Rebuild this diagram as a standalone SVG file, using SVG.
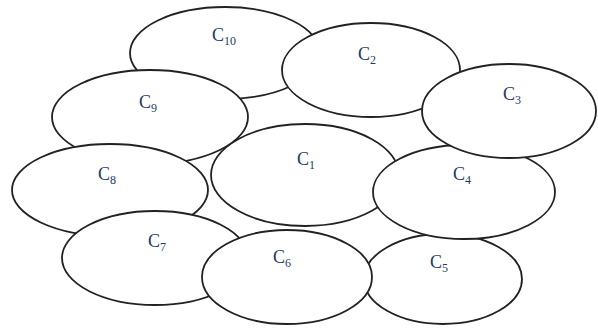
<svg xmlns="http://www.w3.org/2000/svg" width="598" height="329" viewBox="0 0 598 329">
<style>
.e{fill:#fff;stroke:#222;stroke-width:1.8}
.t{font-family:"Liberation Serif","Times New Roman",serif;font-size:18px;fill:#243a63}
.s{font-size:12px}
</style>
<rect width="598" height="329" fill="#fff"/>
<g id="C10"><ellipse class="e" cx="225" cy="53" rx="95" ry="46"/><text class="t" x="212" y="41">C<tspan class="s" dy="4">10</tspan></text></g>
<g id="C1"><ellipse class="e" cx="305" cy="175" rx="94" ry="51"/><text class="t" x="297" y="165">C<tspan class="s" dy="4">1</tspan></text></g>
<g id="C9"><ellipse class="e" cx="150" cy="117" rx="98" ry="47"/><text class="t" x="139" y="108">C<tspan class="s" dy="4">9</tspan></text></g>
<g id="C8"><ellipse class="e" cx="110" cy="190" rx="98" ry="46"/><text class="t" x="98" y="180">C<tspan class="s" dy="4">8</tspan></text></g>
<g id="C7"><ellipse class="e" cx="155" cy="258" rx="93" ry="47"/><text class="t" x="148" y="247">C<tspan class="s" dy="4">7</tspan></text></g>
<g id="C5"><ellipse class="e" cx="443" cy="279" rx="79" ry="45"/><text class="t" x="430" y="268">C<tspan class="s" dy="4">5</tspan></text></g>
<g id="C6"><ellipse class="e" cx="287" cy="277" rx="85" ry="47"/><text class="t" x="273" y="263">C<tspan class="s" dy="4">6</tspan></text></g>
<g id="C4"><ellipse class="e" cx="464" cy="192" rx="91" ry="47"/><text class="t" x="453" y="180">C<tspan class="s" dy="4">4</tspan></text></g>
<g id="C2"><ellipse class="e" cx="371" cy="70" rx="89" ry="47"/><text class="t" x="358" y="60">C<tspan class="s" dy="4">2</tspan></text></g>
<g id="C3"><ellipse class="e" cx="509" cy="111" rx="87" ry="47"/><text class="t" x="503" y="100">C<tspan class="s" dy="4">3</tspan></text></g>
<g id="connectors"></g>
</svg>
